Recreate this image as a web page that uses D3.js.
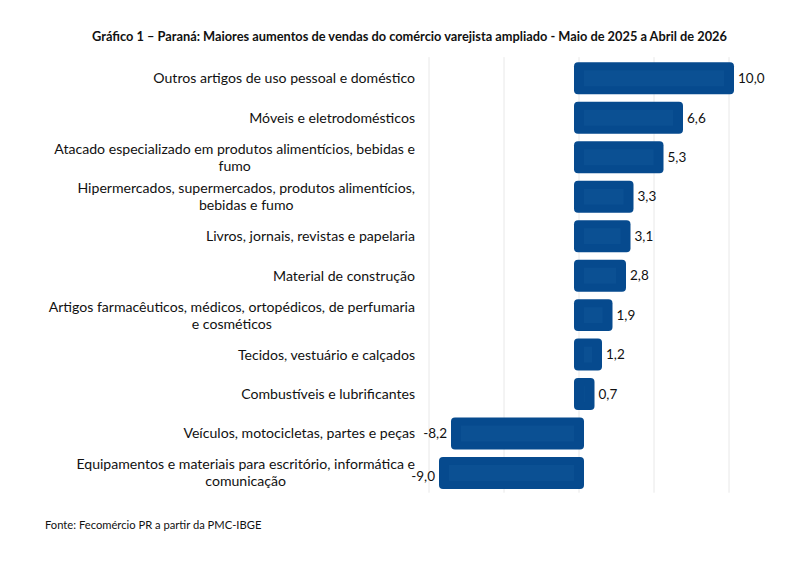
<!DOCTYPE html>
<html>
<head>
<meta charset="utf-8">
<script src="https://cdn.jsdelivr.net/npm/d3@7"></script>
<style>
  body { margin: 0; background: #fff; }
  text { font-family: Lato, "Open Sans", sans-serif; fill: #111; }
</style>
</head>
<body>
<div id="chart"></div>
<script>
var categories = [
  ["Outros artigos de uso pessoal e doméstico"],
  ["Móveis e eletrodomésticos"],
  ["Atacado especializado em produtos alimentícios, bebidas e", "fumo"],
  ["Hipermercados, supermercados, produtos alimentícios,", "bebidas e fumo"],
  ["Livros, jornais, revistas e papelaria"],
  ["Material de construção"],
  ["Artigos farmacêuticos, médicos, ortopédicos, de perfumaria", "e cosméticos"],
  ["Tecidos, vestuário e calçados"],
  ["Combustíveis e lubrificantes"],
  ["Veículos, motocicletas, partes e peças"],
  ["Equipamentos e materiais para escritório, informática e", "comunicação"]
];
var values = [10.0, 6.6, 5.3, 3.3, 3.1, 2.8, 1.9, 1.2, 0.7, -8.2, -9.0];
var gridTicks = [-10, -5, 0, 5, 10];
var title = "Gráfico 1 – Paraná: Maiores aumentos de vendas do comércio varejista ampliado - Maio de 2025 a Abril de 2026";
var source = "Fonte: Fecomércio PR a partir da PMC-IBGE";

var width = 800, height = 564;

var svg = d3.select("#chart")
    .append("svg")
    .attr("width", width)
    .attr("height", height);

var x = d3.scaleLinear()
    .domain([-10, 10])
    .range([429, 729]);

var y = d3.scaleBand()
    .domain(d3.range(values.length))
    .range([58.6, 492.7]);

// comma decimal, plain hyphen for negatives
var fmt = function (v) { return (v < 0 ? "-" : "") + d3.format(".1f")(Math.abs(v)).replace(".", ","); };

// title
svg.append("text")
    .attr("x", 409.5)
    .attr("y", 41)
    .attr("text-anchor", "middle")
    .style("font-weight", "bold")
    .style("font-size", "12.8px")
    .text(title);

// gridlines
svg.append("g")
    .selectAll("line")
    .data(gridTicks)
    .enter()
    .append("line")
    .attr("x1", function (d) { return x(d); })
    .attr("x2", function (d) { return x(d); })
    .attr("y1", y.range()[0] - 1.5)
    .attr("y2", y.range()[1])
    .attr("stroke", "#e8e8e8")
    .attr("stroke-width", 1);

// bars
var barH = y.bandwidth() - 7.5;
var pad = 5;
var bars = svg.append("g").selectAll("g")
    .data(values)
    .enter()
    .append("g");

bars.append("rect")
    .attr("x", function (d) { return x(Math.min(0, d)) - pad; })
    .attr("y", function (d, i) { return y(i) + (y.bandwidth() - barH) / 2; })
    .attr("width", function (d) { return Math.abs(x(d) - x(0)) + 2 * pad; })
    .attr("height", barH)
    .attr("rx", 4)
    .attr("fill", "#064a8e");

bars.append("rect")
    .attr("x", function (d) { return x(Math.min(0, d)) + pad; })
    .attr("y", function (d, i) { return y(i) + (y.bandwidth() - barH) / 2 + 8; })
    .attr("width", function (d) { return Math.max(0, Math.abs(x(d) - x(0)) - 2 * pad); })
    .attr("height", barH - 16)
    .attr("fill", "#0b5093");

// value labels (last one sits a bit lower, as in the original)
bars.append("text")
    .attr("x", function (d) { return d >= 0 ? x(d) + 9 : x(d) - 9; })
    .attr("y", function (d, i) { return y(i) + y.bandwidth() / 2 + (i === values.length - 1 ? 3 : 0); })
    .attr("dy", "0.35em")
    .attr("text-anchor", function (d) { return d >= 0 ? "start" : "end"; })
    .style("font-size", "13.5px")
    .text(function (d) { return fmt(d); });

// category labels
var labelRight = 415;
var labels = svg.append("g").selectAll("text")
    .data(categories)
    .enter()
    .append("text")
    .style("font-size", "14.1px");

labels.each(function (lines, i) {
    var t = d3.select(this);
    var cy = y(i) + y.bandwidth() / 2;
    var lh = 17;
    var spans = t.selectAll("tspan")
        .data(lines)
        .enter()
        .append("tspan")
        .attr("y", function (d, j) { return cy + (j - (lines.length - 1) / 2) * lh; })
        .attr("dy", "0.35em")
        .text(function (d) { return d; });
    if (lines.length === 1) {
        spans.attr("x", labelRight).attr("text-anchor", "end");
    } else {
        var maxW = d3.max(spans.nodes(), function (n) { return n.getComputedTextLength(); });
        spans.attr("x", labelRight - maxW / 2).attr("text-anchor", "middle");
    }
});

// source
svg.append("text")
    .attr("x", 45)
    .attr("y", 529)
    .style("font-size", "11.2px")
    .text(source);
</script>
</body>
</html>
